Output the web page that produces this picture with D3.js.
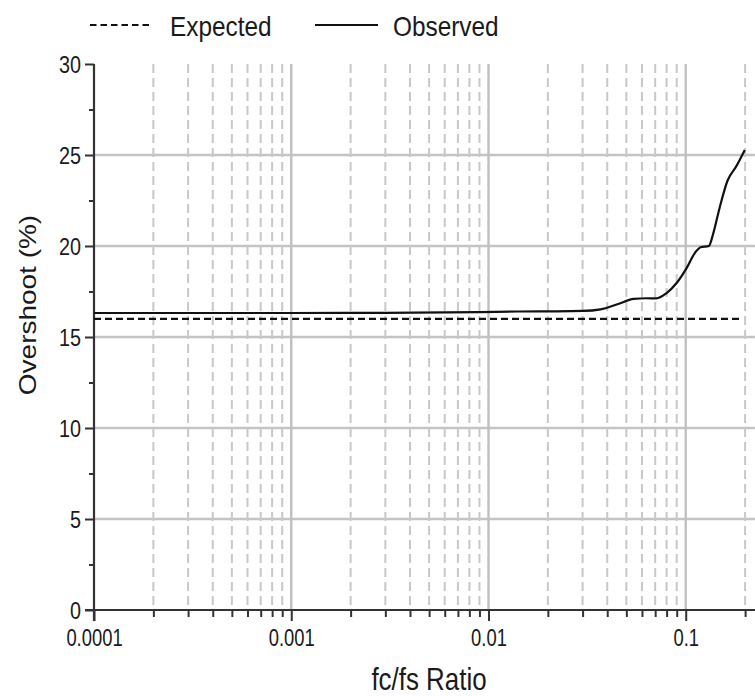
<!DOCTYPE html>
<html><head><meta charset="utf-8">
<script src="https://cdn.jsdelivr.net/npm/d3@7"></script>
<style>
html,body{margin:0;padding:0;background:#fff;}
svg{display:block;}
text{font-family:"Liberation Sans",Arial,sans-serif;fill:#1a1a1a;}
</style></head>
<body>
<svg id="chart" width="755" height="696"></svg>
<script>
// ---- data ----
const seriesNames = ["Expected", "Observed"];
const expectedX = [0.0001, 0.19];
const expectedY = [16.0, 16.0];
const observedX = [0.0001, 0.001, 0.003, 0.009, 0.014, 0.02, 0.03, 0.037, 0.045, 0.0545, 0.063, 0.071, 0.0797, 0.0897, 0.1008, 0.111, 0.119, 0.131, 0.138, 0.149, 0.163, 0.180, 0.199];
const observedY = [16.32, 16.32, 16.33, 16.37, 16.40, 16.41, 16.43, 16.52, 16.8, 17.09, 17.13, 17.12, 17.4, 17.95, 18.77, 19.6, 19.93, 20.0, 20.7, 22.16, 23.6, 24.36, 25.27];
const xMajorTicks = [0.0001, 0.001, 0.01, 0.1];
const xTickLabels = ["0.0001", "0.001", "0.01", "0.1"];
const yMajorTicks = [0, 5, 10, 15, 20, 25, 30];
const yMinorTicks = [2.5, 7.5, 12.5, 17.5, 22.5, 27.5];
const xTitle = "fc/fs Ratio";
const yTitle = "Overshoot (%)";

// minor ticks 2..9 per decade, plus 0.2
const xMinorTicks = [];
[0.0001, 0.001, 0.01, 0.1].forEach(d => { for (let k = 2; k <= 9; k++) { const v = d * k; if (v <= 0.2 + 1e-9) xMinorTicks.push(v); } });

// ---- layout ----
const svg = d3.select("#chart");
const pLeft = 94, pRight = 755, pTop = 64, pBottom = 610;
const x = d3.scaleLog().domain([0.0001, 0.2245]).range([pLeft, pRight]);
const y = d3.scaleLinear().domain([0, 30]).range([pBottom, pTop]);

const grid = svg.append("g");
grid.selectAll("line.h").data(yMajorTicks.filter(v => v > 0 && v < 30)).join("line")
  .attr("x1", pLeft).attr("x2", pRight)
  .attr("y1", d => y(d)).attr("y2", d => y(d))
  .attr("stroke", "#c4c4c4").attr("stroke-width", 2.4);
grid.selectAll("line.vm").data(xMinorTicks).join("line")
  .attr("x1", d => x(d)).attr("x2", d => x(d))
  .attr("y1", pTop).attr("y2", pBottom)
  .attr("stroke", "#c8c8c8").attr("stroke-width", 2).attr("stroke-dasharray", "9,5");
grid.selectAll("line.vM").data(xMajorTicks.slice(1)).join("line")
  .attr("x1", d => x(d)).attr("x2", d => x(d))
  .attr("y1", pTop).attr("y2", pBottom)
  .attr("stroke", "#c0c0c0").attr("stroke-width", 2.4);

// ---- axes ----
const axisColor = "#333";
const tickScaleX = 0.8;
const xAxis = d3.axisBottom(x).tickValues(xMajorTicks).tickFormat((d, i) => xTickLabels[i]).tickSize(11).tickSizeOuter(0);
const gx = svg.append("g").attr("transform", `translate(0,${pBottom})`).call(xAxis);
gx.select(".domain").remove();
gx.selectAll(".tick line").attr("stroke", axisColor).attr("stroke-width", 2);
gx.selectAll(".tick text").attr("font-size", 23).attr("dy", 0).attr("y", 0)
  .attr("transform", `translate(0,36) scale(${tickScaleX},1)`)
  .attr("fill", "#1a1a1a").style("font-family", '"Liberation Sans",Arial,sans-serif');
const gxm = svg.append("g").attr("transform", `translate(0,${pBottom})`)
  .call(d3.axisBottom(x).tickValues(xMinorTicks).tickFormat("").tickSize(7).tickSizeOuter(0));
gxm.select(".domain").remove();
gxm.selectAll(".tick line").attr("stroke", axisColor).attr("stroke-width", 2);
svg.append("line").attr("x1", pLeft - 9).attr("x2", pRight).attr("y1", pBottom).attr("y2", pBottom)
  .attr("stroke", axisColor).attr("stroke-width", 2.2);

const yAxis = d3.axisLeft(y).tickValues(yMajorTicks).tickSize(9).tickSizeOuter(0);
const gy = svg.append("g").attr("transform", `translate(${pLeft},0)`).call(yAxis);
gy.select(".domain").remove();
gy.selectAll(".tick line").attr("stroke", axisColor).attr("stroke-width", 2);
gy.selectAll(".tick text").attr("font-size", 23).attr("x", 0).attr("dy", "0.35em")
  .attr("transform", `translate(-13,0) scale(0.86,1)`)
  .attr("fill", "#1a1a1a").style("font-family", '"Liberation Sans",Arial,sans-serif');
const gym = svg.append("g").attr("transform", `translate(${pLeft},0)`)
  .call(d3.axisLeft(y).tickValues(yMinorTicks).tickFormat("").tickSize(5).tickSizeOuter(0));
gym.select(".domain").remove();
gym.selectAll(".tick line").attr("stroke", axisColor).attr("stroke-width", 2);
svg.append("line").attr("x1", pLeft).attr("x2", pLeft).attr("y1", pTop).attr("y2", pBottom + 11)
  .attr("stroke", axisColor).attr("stroke-width", 2.2);

// ---- series ----
const line = d3.line().x(d => x(d[0])).y(d => y(d[1])).curve(d3.curveMonotoneX);
svg.append("path").datum(expectedX.map((v, i) => [v, expectedY[i]]))
  .attr("d", line).attr("fill", "none").attr("stroke", "#111").attr("stroke-width", 2.2)
  .attr("stroke-dasharray", "7,4");
svg.append("path").datum(observedX.map((v, i) => [v, observedY[i]]))
  .attr("d", line).attr("fill", "none").attr("stroke", "#111").attr("stroke-width", 2.2);

// ---- titles ----
svg.append("text").attr("transform", "translate(429,690) scale(0.81,1)").attr("text-anchor", "middle")
  .attr("font-size", 32).text(xTitle);
svg.append("text").attr("transform", "translate(36,305) rotate(-90) scale(1,0.85)")
  .attr("text-anchor", "middle").attr("font-size", 28).text(yTitle);

// ---- legend ----
const legend = svg.append("g");
const legItems = [
  { name: seriesNames[0], dash: "6.5,4", x0: 90, x1: 153, tx: 170 },
  { name: seriesNames[1], dash: null, x0: 315, x1: 378, tx: 393 }
];
legItems.forEach(it => {
  const l = legend.append("line").attr("x1", it.x0).attr("x2", it.x1).attr("y1", 25).attr("y2", 25)
    .attr("stroke", "#111").attr("stroke-width", 2);
  if (it.dash) l.attr("stroke-dasharray", it.dash);
  legend.append("text").attr("transform", `translate(${it.tx},36) scale(0.87,1)`)
    .attr("font-size", 28).text(it.name);
});
</script>
</body></html>
